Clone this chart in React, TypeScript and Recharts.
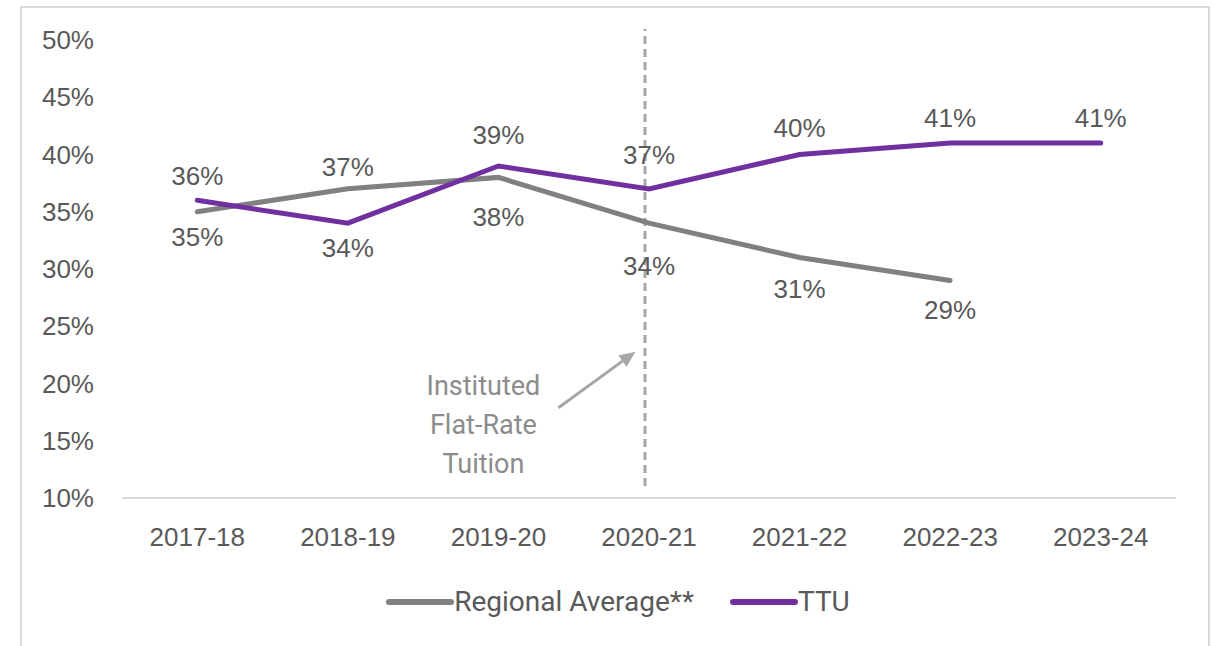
import React from 'react';
import { LineChart, Line, XAxis, YAxis, Legend, ReferenceLine, ReferenceDot, LabelList } from 'recharts';

const categories = ['2017-18', '2018-19', '2019-20', '2020-21', '2021-22', '2022-23', '2023-24'];
const regionalAverage: (number | null)[] = [35, 37, 38, 34, 31, 29, null];
const ttu: number[] = [36, 34, 39, 37, 40, 41, 41];
const yTicks = [10, 15, 20, 25, 30, 35, 40, 45, 50];
const regionalLabelSide = ['below', 'above', 'below', 'below', 'below', 'below', 'below'];
const ttuLabelSide = ['above', 'below', 'above', 'above', 'above', 'above', 'above'];
// label distance from its point (styling, px)
const regionalLabelGap = [25, 22, 40, 43, 31, 30, 30];
const ttuLabelGap = [24, 25, 31, 34, 27, 25, 25];
const policyYear = '2020-21';
const annotationYear = '2019-20';
const annotationLevel = 16.4;
const annotationLines = ['Instituted', 'Flat-Rate', 'Tuition'];

const data = categories.map((c, i) => ({ year: c, regional: regionalAverage[i], ttu: ttu[i] }));

const GRAY = '#808080';
const PURPLE = '#7030a0';
const TEXT = '#595959';
const LIGHT = '#a6a6a6';
const TICK_FONT = '"Liberation Sans", Arial, sans-serif';
const SOFT_FONT = 'Roboto, "Noto Sans", sans-serif';

const makeLabel = (sides: string[], gaps: number[]) => (props: any) => {
  const { x, y, value, index } = props;
  if (value === null || value === undefined) return null;
  const off = sides[index] === 'above' ? -gaps[index] : gaps[index];
  return (
    <text x={x} y={y + off} textAnchor="middle" dominantBaseline="central" fill={TEXT} fontSize={26} fontFamily={TICK_FONT}>
      {value}%
    </text>
  );
};

const renderLegend = (props: any) => {
  const { payload } = props;
  return (
    <div style={{ display: 'flex', justifyContent: 'center', alignItems: 'center', height: 40, paddingLeft: 60 }}>
      {(payload || []).map((entry: any, i: number) => (
        <div key={i} style={{ display: 'flex', alignItems: 'center', marginRight: i === 0 ? 36 : 0 }}>
          <svg width={68} height={12} style={{ display: 'block' }}>
            <line x1={3} y1={6} x2={65} y2={6} stroke={entry.color} strokeWidth={6} strokeLinecap="round" />
          </svg>
          <span style={{ fontFamily: SOFT_FONT, fontSize: 28, color: TEXT, lineHeight: '30px' }}>{entry.value}</span>
        </div>
      ))}
    </div>
  );
};

const DashedPolicy = (p: any) => (
  <line x1={p.x1 - 4} x2={p.x2 - 4} y1={p.y1 - 12} y2={p.y2 - 11} stroke={LIGHT} strokeWidth={3} strokeDasharray="8 5" />
);

const Annotation = (p: any) => {
  const { cx, cy } = p;
  if (cx == null || cy == null) return null;
  const tx = cx - 15;
  const ax1 = cx + 60, ay1 = cy - 17, ax2 = cx + 137, ay2 = cy - 73;
  const ang = Math.atan2(ay2 - ay1, ax2 - ax1);
  const hl = 16, hw = 7;
  const bx = ax2 - hl * Math.cos(ang), by = ay2 - hl * Math.sin(ang);
  const px = -Math.sin(ang) * hw, py = Math.cos(ang) * hw;
  return (
    <g>
      {annotationLines.map((t, i) => (
        <text key={i} x={tx} y={cy + (i - 1) * 39} textAnchor="middle" dominantBaseline="central" fill="#8c8c8c" fontSize={27} fontFamily={SOFT_FONT}>
          {t}
        </text>
      ))}
      <line x1={ax1} y1={ay1} x2={bx} y2={by} stroke={LIGHT} strokeWidth={3} />
      <polygon points={`${ax2},${ay2} ${bx + px},${by + py} ${bx - px},${by - py}`} fill={LIGHT} />
    </g>
  );
};

export default function App() {
  return (
    <div style={{ position: 'absolute', left: 0, top: 0, width: 1216, height: 646, overflow: 'hidden', background: '#fff' }}>
      <div style={{ position: 'absolute', left: 20, top: 6, width: 1186, height: 800, border: '2px solid #d9d9d9' }} />
      <div style={{ position: 'absolute', left: 0, top: 0 }}>
        <LineChart width={1216} height={646} data={data} margin={{ top: 40, right: 40, bottom: 24, left: 0 }}>
          <XAxis
            dataKey="year"
            scale="band"
            axisLine={{ stroke: '#d9d9d9', strokeWidth: 2 }}
            tickLine={false}
            height={84}
            tickMargin={24}
            tick={{ fill: TEXT, fontSize: 26, fontFamily: TICK_FONT }}
          />
          <YAxis
            domain={[10, 50]}
            ticks={yTicks}
            tickFormatter={(v: number) => `${v}%`}
            axisLine={false}
            tickLine={false}
            width={122}
            tickMargin={22}
            tick={{ fill: TEXT, fontSize: 26, fontFamily: TICK_FONT }}
          />
          <ReferenceLine x={policyYear} shape={DashedPolicy} />
          <ReferenceDot x={annotationYear} y={annotationLevel} r={0} shape={Annotation} />
          <Line
            type="linear"
            dataKey="regional"
            name="Regional Average**"
            stroke={GRAY}
            strokeWidth={5}
            strokeLinecap="round"
            dot={false}
            activeDot={false}
            isAnimationActive={false}
          >
            <LabelList dataKey="regional" content={makeLabel(regionalLabelSide, regionalLabelGap)} />
          </Line>
          <Line
            type="linear"
            dataKey="ttu"
            name="TTU"
            stroke={PURPLE}
            strokeWidth={5}
            strokeLinecap="round"
            dot={false}
            activeDot={false}
            isAnimationActive={false}
          >
            <LabelList dataKey="ttu" content={makeLabel(ttuLabelSide, ttuLabelGap)} />
          </Line>
          <Legend verticalAlign="bottom" content={renderLegend} />
        </LineChart>
      </div>
    </div>
  );
}
